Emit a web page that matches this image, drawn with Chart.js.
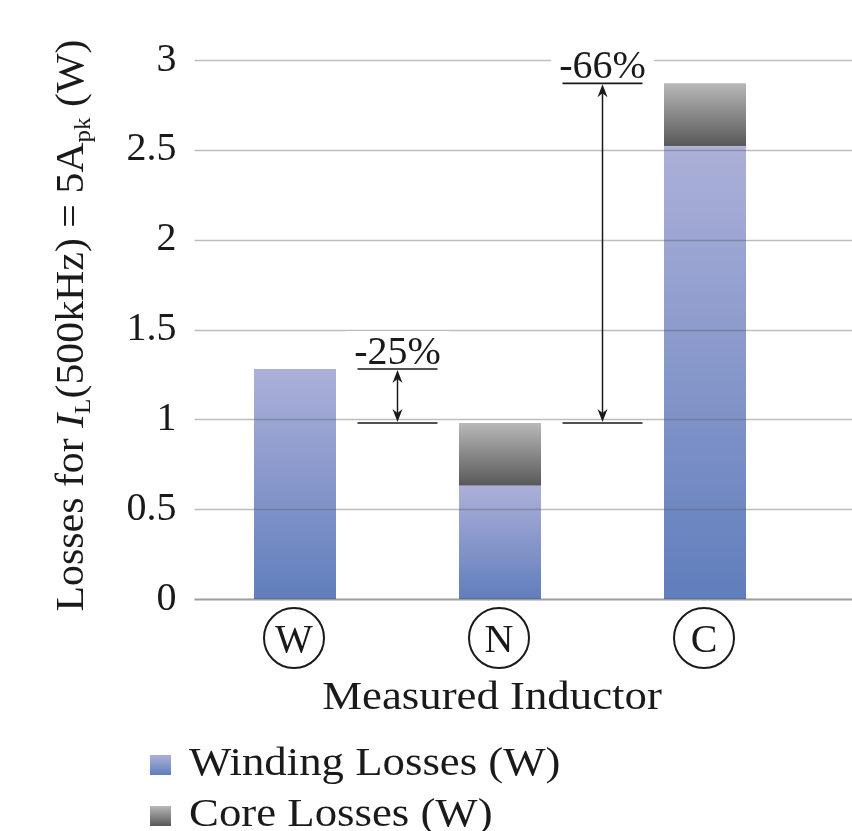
<!DOCTYPE html>
<html>
<head>
<meta charset="utf-8">
<script src="https://cdn.jsdelivr.net/npm/chart.js@4/dist/chart.umd.min.js"></script>
<style>
  html, body { margin: 0; padding: 0; background: #fff; }
  canvas { display: block; }
</style>
</head>
<body>
<canvas id="chart" width="852" height="831"></canvas>
<script>
// Measured inductors and their loss split at 5 A peak, 500 kHz
const inductors = ['W', 'N', 'C'];
const windingLosses = [1.28, 0.63, 2.52];
const coreLosses = [0, 0.35, 0.35];
const seriesNames = ['Winding Losses (W)', 'Core Losses (W)'];
const yTickValues = [0, 0.5, 1, 1.5, 2, 2.5, 3];
const yTickLabels = ['0', '0.5', '1', '1.5', '2', '2.5', '3'];

// Total-loss reductions annotated between bars
const reductionFrom = [0, 2];
const reductionTo = [1, 1];
const reductionLabels = ['-25%', '-66%'];

const SERIF = '"Liberation Serif", "Times New Roman", serif';
const TEXT = '#1a1a1a';
const WIDE = 1.12; // horizontal stretch for the long labels

const shades = [
  { top: 'rgb(172,176,216)', bottom: 'rgb(96,126,188)' },  // winding
  { top: 'rgb(184,184,184)', bottom: 'rgb(88,88,88)' }       // core
];

function segmentFill(context, ds) {
  const chart = context.chart;
  const area = chart.chartArea;
  if (!area || context.type !== 'data') return shades[ds].bottom;
  const y = chart.scales.y;
  const i = context.dataIndex;
  const base = ds === 0 ? 0 : windingLosses[i];
  const top = base + (ds === 0 ? windingLosses[i] : coreLosses[i]);
  const y0 = y.getPixelForValue(base);
  const y1 = y.getPixelForValue(top);
  if (!isFinite(y0) || !isFinite(y1) || Math.abs(y0 - y1) < 0.5) return shades[ds].bottom;
  const g = chart.ctx.createLinearGradient(0, y1, 0, y0);
  g.addColorStop(0, shades[ds].top);
  g.addColorStop(1, shades[ds].bottom);
  return g;
}

function drawText(ctx, str, x, y, font, align, sx) {
  ctx.save();
  ctx.font = font;
  ctx.textBaseline = 'alphabetic';
  ctx.textAlign = 'left';
  const w = ctx.measureText(str).width;
  const off = align === 'center' ? -w / 2 : (align === 'right' ? -w : 0);
  ctx.translate(x, y);
  ctx.scale(sx, 1);
  ctx.fillText(str, off, 0);
  ctx.restore();
  return w * sx;
}

function arrowHead(ctx, x, y, dir) {
  // dir = -1 points up, +1 points down; tip at (x, y)
  const len = 13, half = 5;
  ctx.beginPath();
  ctx.moveTo(x, y);
  ctx.lineTo(x - half, y - dir * len);
  ctx.lineTo(x, y - dir * (len - 4));
  ctx.lineTo(x + half, y - dir * len);
  ctx.closePath();
  ctx.fill();
}

const decor = {
  id: 'decor',
  afterDatasetsDraw(chart) {
    const ctx = chart.ctx;
    const area = chart.chartArea;
    const xs = chart.scales.x;
    const ys = chart.scales.y;

    // horizontal grid, laid over the bars
    ctx.save();
    ys.ticks.forEach(t => {
      const py = Math.round(ys.getPixelForValue(t.value)) + 0.5;
      ctx.beginPath();
      if (t.value === 0) {
        ctx.strokeStyle = 'rgba(60,60,60,0.5)';
        ctx.lineWidth = 2;
      } else {
        ctx.strokeStyle = 'rgba(90,90,90,0.4)';
        ctx.lineWidth = 1.5;
      }
      ctx.moveTo(area.left + 2, py);
      ctx.lineTo(chart.width, py);
      ctx.stroke();
    });
    ctx.restore();

    // reduction markers between bars
    ctx.save();
    ctx.fillStyle = TEXT;
    ctx.strokeStyle = TEXT;
    reductionFrom.forEach((from, k) => {
      const to = reductionTo[k];
      const cx = (xs.getPixelForValue(from) + xs.getPixelForValue(to)) / 2;
      const yTop = ys.getPixelForValue(windingLosses[from] + coreLosses[from]);
      const yBot = ys.getPixelForValue(windingLosses[to] + coreLosses[to]);
      const half = 40;

      // label with a white backing
      ctx.font = '40px ' + SERIF;
      const w = ctx.measureText(reductionLabels[k]).width;
      ctx.fillStyle = '#fff';
      ctx.fillRect(cx - w / 2 - 8, yTop - 38, w + 16, 34);
      ctx.fillStyle = TEXT;
      drawText(ctx, reductionLabels[k], cx, yTop - 5, '40px ' + SERIF, 'center', 1);

      ctx.lineWidth = 1.6;
      ctx.beginPath();
      ctx.moveTo(cx - half, yTop); ctx.lineTo(cx + half, yTop);
      ctx.moveTo(cx - half, yBot); ctx.lineTo(cx + half, yBot);
      ctx.stroke();

      ctx.lineWidth = 1.5;
      ctx.beginPath();
      ctx.moveTo(cx, yTop + 8); ctx.lineTo(cx, yBot - 8);
      ctx.stroke();
      arrowHead(ctx, cx, yTop + 1, -1);
      arrowHead(ctx, cx, yBot - 1, 1);
    });
    ctx.restore();

    // circled category labels
    ctx.save();
    ctx.fillStyle = TEXT;
    ctx.strokeStyle = TEXT;
    ctx.lineWidth = 2;
    inductors.forEach((name, i) => {
      const px = xs.getPixelForValue(i) - 1;
      ctx.beginPath();
      ctx.arc(px, 638, 30, 0, Math.PI * 2);
      ctx.stroke();
      drawText(ctx, name, px, 652, '40px ' + SERIF, 'center', 1);
    });
    ctx.restore();

    // axis titles
    ctx.save();
    ctx.fillStyle = TEXT;
    drawText(ctx, 'Measured Inductor', 492, 709, '40px ' + SERIF, 'center', WIDE);

    const parts = [
      { t: 'Losses for ', f: '40px ' + SERIF, dy: 0 },
      { t: 'I', f: 'italic 40px ' + SERIF, dy: 0 },
      { t: 'L', f: '24px ' + SERIF, dy: 7 },
      { t: '(500kHz) = 5A', f: '40px ' + SERIF, dy: 0 },
      { t: 'pk', f: '24px ' + SERIF, dy: 7 },
      { t: ' (W)', f: '40px ' + SERIF, dy: 0 }
    ];
    let total = 0;
    parts.forEach(p => { ctx.font = p.f; p.w = ctx.measureText(p.t).width; total += p.w; });
    const span = 572;
    const sx = span / total;
    const cy = (area.top + area.bottom) / 2 - 4;
    ctx.translate(83, cy);
    ctx.rotate(-Math.PI / 2);
    ctx.scale(sx, 1);
    ctx.textBaseline = 'alphabetic';
    let cur = -total / 2;
    parts.forEach(p => {
      ctx.font = p.f;
      ctx.fillText(p.t, cur, p.dy);
      cur += p.w;
    });
    ctx.restore();

    // legend
    ctx.save();
    const rows = [775, 826];
    seriesNames.forEach((name, k) => {
      const base = rows[k];
      const g = ctx.createLinearGradient(0, base - 20, 0, base);
      g.addColorStop(0, shades[k].top);
      g.addColorStop(1, shades[k].bottom);
      ctx.fillStyle = g;
      ctx.fillRect(150, base - 20, 21, 20);
      ctx.fillStyle = TEXT;
      drawText(ctx, name, 189, base, '40px ' + SERIF, 'left', WIDE);
    });
    ctx.restore();
  }
};

new Chart(document.getElementById('chart'), {
  type: 'bar',
  data: {
    labels: inductors,
    datasets: [
      {
        label: seriesNames[0],
        data: windingLosses,
        backgroundColor: c => segmentFill(c, 0),
        borderWidth: 0
      },
      {
        label: seriesNames[1],
        data: coreLosses,
        backgroundColor: c => segmentFill(c, 1),
        borderWidth: 0
      }
    ]
  },
  options: {
    responsive: false,
    animation: false,
    devicePixelRatio: 1,
    barPercentage: 0.4,
    categoryPercentage: 1.0,
    layout: { padding: { left: 0, right: 44.5, top: 60, bottom: 0 } },
    plugins: {
      legend: { display: false },
      tooltip: { enabled: false }
    },
    scales: {
      x: {
        stacked: true,
        grid: { display: false, drawTicks: false },
        border: { display: false },
        ticks: { display: false },
        afterFit: s => { s.height = 232; }
      },
      y: {
        stacked: true,
        min: 0,
        max: 3,
        grid: { display: false, drawTicks: false },
        border: { display: false },
        afterBuildTicks: s => { s.ticks = yTickValues.map(v => ({ value: v })); },
        afterFit: s => { s.width = 192.5; },
        ticks: {
          padding: 16,
          color: TEXT,
          font: { family: SERIF, size: 40 },
          callback: v => yTickLabels[yTickValues.indexOf(v)]
        }
      }
    }
  },
  plugins: [decor]
});
</script>
</body>
</html>
